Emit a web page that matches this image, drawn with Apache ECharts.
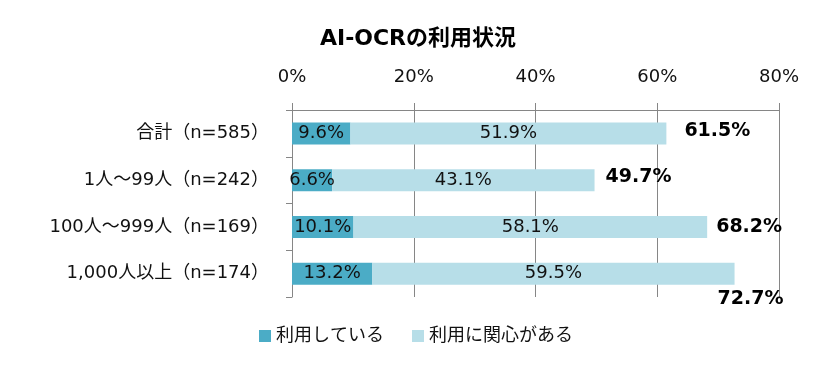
<!DOCTYPE html>
<html>
<head>
<meta charset="utf-8">
<script src="https://cdn.jsdelivr.net/npm/echarts@6/dist/echarts.min.js"></script>
<style>html,body{margin:0;padding:0;background:#fff}#c{width:827px;height:368px}</style>
</head>
<body>
<div id="c"></div>
<script>
var categories = ['合計（n=585）', '1人～99人（n=242）', '100人～999人（n=169）', '1,000人以上（n=174）'];
var using = [9.6, 6.6, 10.1, 13.2];
var interested = [51.9, 43.1, 58.1, 59.5];
var totals = [61.5, 49.7, 68.2, 72.7];
var xTicks = [0, 20, 40, 60, 80];
var seriesNames = ['利用している', '利用に関心がある'];

var totalOffsets = [[18, -2], [11, -3], [9, 0], [-17, 25]];

var FONT = '"DejaVu Sans", "Noto Sans CJK JP", sans-serif';
var chart = echarts.init(document.getElementById('c'));
chart.setOption({
  animation: false,
  textStyle: { fontFamily: FONT },
  title: {
    text: 'AI-OCRの利用状況',
    left: 413, top: 23, textAlign: 'center',
    textStyle: { fontSize: 22, fontWeight: 'bold', color: '#000', fontFamily: FONT }
  },
  legend: {
    data: seriesNames,
    left: 254, top: 322,
    itemWidth: 12, itemHeight: 12, itemGap: 28,
    icon: 'rect',
    textStyle: { fontSize: 18, color: '#111', fontFamily: FONT }
  },
  grid: { left: 292, right: 48, top: 110, bottom: 71, containLabel: false },
  xAxis: {
    type: 'value', position: 'top', min: xTicks[0], max: xTicks[xTicks.length - 1], interval: 20,
    axisLine: { show: true, lineStyle: { color: '#868686' } },
    axisTick: { show: true, length: 7, lineStyle: { color: '#868686' } },
    splitLine: { show: true, lineStyle: { color: '#868686' } },
    axisLabel: { formatter: '{value}%', fontSize: 18, color: '#111', margin: 24, fontFamily: FONT }
  },
  yAxis: {
    type: 'category', data: categories, inverse: true,
    axisLine: { show: true, lineStyle: { color: '#868686' } },
    axisTick: { show: true, length: 6, lineStyle: { color: '#868686' } },
    axisLabel: { fontSize: 18, color: '#111', margin: 23, fontFamily: FONT }
  },
  series: [
    {
      name: seriesNames[0], type: 'bar', stack: 'a', data: using, barWidth: 22,
      itemStyle: { color: '#4BACC6' },
      label: { show: true, position: 'inside', formatter: function (p) { return p.value.toFixed(1) + '%'; },
        fontSize: 18, color: '#111', fontFamily: FONT }
    },
    {
      name: seriesNames[1], type: 'bar', stack: 'a', data: interested, barWidth: 22,
      itemStyle: { color: '#B7DEE8' },
      label: { show: true, position: 'inside', formatter: function (p) { return p.value.toFixed(1) + '%'; },
        fontSize: 18, color: '#111', fontFamily: FONT }
    },
    {
      name: 'total', type: 'scatter', symbolSize: 0, silent: true,
      itemStyle: { opacity: 1 },
      data: totals.map(function (v, i) {
        return { value: [v, categories[i]], label: { offset: totalOffsets[i] } };
      }),
      label: { show: true, position: 'right', distance: 0,
        formatter: function (p) { return p.value[0].toFixed(1) + '%'; },
        fontSize: 19, fontWeight: 'bold', color: '#000', opacity: 1, fontFamily: FONT }
    }
  ]
});
</script>
</body>
</html>
